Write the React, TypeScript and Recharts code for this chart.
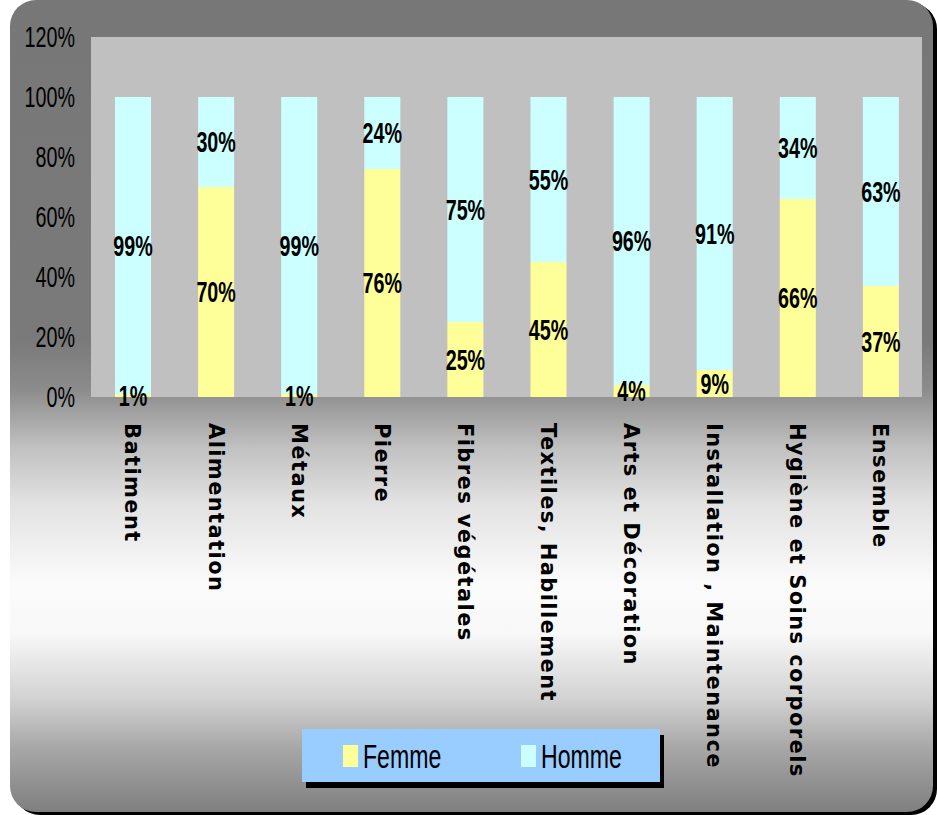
import React from "react";
import { BarChart, Bar, XAxis, YAxis, CartesianGrid, LabelList } from "recharts";

const categories = [
  "Batiment",
  "Alimentation",
  "Métaux",
  "Pierre",
  "Fibres végétales",
  "Textiles, Habillement",
  "Arts et Décoration",
  "Installation , Maintenance",
  "Hygiène et Soins corporels",
  "Ensemble",
];
const femme = [1, 70, 1, 76, 25, 45, 4, 9, 66, 37];
const homme = [99, 30, 99, 24, 75, 55, 96, 91, 34, 63];
const yTicks = [0, 20, 40, 60, 80, 100, 120];
const seriesNames = ["Femme", "Homme"];
const seriesColors = ["#ffff99", "#ccffff"];

const data = categories.map((c, i) => ({ cat: c, femme: femme[i], homme: homme[i] }));

const SANS = "'Liberation Sans', Arial, sans-serif";
const SQUEEZE = 0.68;

const XTick = (props: any) => {
  const { x, y, payload } = props;
  return (
    <g transform={`translate(${x},${y})`}>
      <text
        transform="rotate(90)"
        x={26}
        y={0}
        dy="0.34em"
        textAnchor="start"
        fill="#000"
        fontFamily="Verdana, 'DejaVu Sans', sans-serif"
        fontWeight="bold"
        fontSize={21}
        letterSpacing={1.4}
      >
        {payload.value}
      </text>
    </g>
  );
};

const YTick = (props: any) => {
  const { x, y, payload } = props;
  return (
    <text
      transform={`translate(${x},${y}) scale(${SQUEEZE},1)`}
      x={0}
      y={0}
      dy="0.36em"
      textAnchor="end"
      fill="#000"
      fontFamily={SANS}
      fontSize={29}
    >
      {payload.value + "%"}
    </text>
  );
};

const renderLabel = (props: any) => {
  const { x, y, width, height, value } = props;
  return (
    <text
      transform={`translate(${x + width / 2},${y + height / 2}) scale(${SQUEEZE},1)`}
      x={0}
      y={0}
      dy="0.36em"
      textAnchor="middle"
      fill="#000"
      fontFamily={SANS}
      fontWeight="bold"
      fontSize={29}
    >
      {value + "%"}
    </text>
  );
};

export default function App() {
  return (
    <div style={{ position: "absolute", left: 0, top: 0, width: 937, height: 815, background: "#fff", overflow: "hidden" }}>
      <div
        style={{ position: "absolute", left: 14, top: 3, width: 923, height: 812, borderRadius: 26, background: "#000" }}
      />
      <div
        style={{
          position: "absolute",
          left: 10,
          top: 0,
          width: 923,
          height: 812,
          borderRadius: 26,
          background:
            "linear-gradient(to bottom, #777777 0%, #7a7a7a 42%, #8c8c8c 48%, #c0c0c0 55%, #e2e2e2 62%, #fbfbfb 72%, #f8f8f8 78%, #d2d2d2 86%, #a8a8a8 92%, #7f7f7f 100%)",
        }}
      />
      <div style={{ position: "absolute", left: 0, top: 0 }}>
        <BarChart
          width={937}
          height={815}
          data={data}
          margin={{ top: 37, right: 15, left: 11, bottom: 0 }}
        >
          <CartesianGrid fill="#c0c0c0" stroke="none" horizontal={false} vertical={false} />
          <XAxis
            dataKey="cat"
            height={418}
            axisLine={false}
            tickLine={false}
            tickSize={0}
            tickMargin={0}
            interval={0}
            tick={<XTick />}
          />
          <YAxis
            width={80}
            domain={[0, 120]}
            ticks={yTicks}
            axisLine={false}
            tickLine={false}
            tickSize={0}
            tickMargin={16}
            tick={<YTick />}
          />
          <Bar dataKey="femme" stackId="a" fill={seriesColors[0]} barSize={36} isAnimationActive={false}>
            <LabelList dataKey="femme" content={renderLabel} />
          </Bar>
          <Bar dataKey="homme" stackId="a" fill={seriesColors[1]} barSize={36} isAnimationActive={false}>
            <LabelList dataKey="homme" content={renderLabel} />
          </Bar>
        </BarChart>
      </div>
      <div style={{ position: "absolute", left: 306, top: 735, width: 358, height: 53, background: "#000" }} />
      <div
        style={{
          position: "absolute",
          left: 302,
          top: 729,
          width: 358,
          height: 53,
          background: "#99ccff",
          fontFamily: SANS,
          fontSize: 33,
          color: "#000",
        }}
      >
        {seriesNames.map((n, i) => (
          <div key={n} style={{ position: "absolute", left: i === 0 ? 41 : 219, top: 0, height: 53, display: "flex", alignItems: "center" }}>
            <div style={{ width: 15, height: 22, background: seriesColors[i], marginRight: 5, flexShrink: 0 }} />
            <span
              style={{
                lineHeight: "33px",
                display: "inline-block",
                transform: `scaleX(${SQUEEZE + 0.02})`,
                transformOrigin: "left center",
                whiteSpace: "nowrap",
                marginTop: 1,
              }}
            >
              {n}
            </span>
          </div>
        ))}
      </div>
    </div>
  );
}
